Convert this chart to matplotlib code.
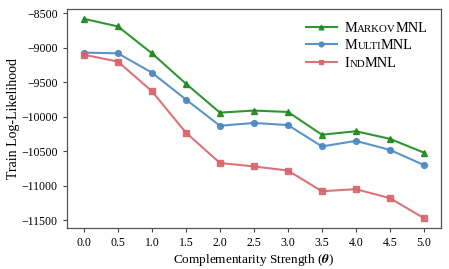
import numpy as np
import matplotlib
matplotlib.use("Agg")
import matplotlib.pyplot as plt
from matplotlib.colors import to_rgba
from matplotlib.offsetbox import HPacker, TextArea

# data
theta = [0.0, 0.5, 1.0, 1.5, 2.0, 2.5, 3.0, 3.5, 4.0, 4.5, 5.0]
markov = [-8580, -8690, -9080, -9520, -9940, -9910, -9930, -10260, -10210, -10320, -10520]
multi = [-9070, -9080, -9360, -9750, -10130, -10090, -10120, -10430, -10350, -10480, -10700]
ind = [-9100, -9200, -9630, -10230, -10670, -10720, -10780, -11080, -11050, -11180, -11470]

plt.rcParams['font.family'] = ['Liberation Serif', 'DejaVu Serif']
plt.rcParams['mathtext.fontset'] = 'stix'

fig, ax = plt.subplots(figsize=(4.49, 2.69), dpi=100)
fig.subplots_adjust(left=0.149, right=0.982, bottom=0.152, top=0.967)

series = [
    (markov, '#1a8a1a', '^', ('M', 'ARKOV', 'MNL')),
    (multi, '#4a88c2', 'o', ('M', 'ULTI', 'MNL')),
    (ind, '#d9646a', 's', ('I', 'ND', 'MNL')),
]
for vals, col, mk, lab in series:
    ax.plot(theta, vals, color=col, lw=1.5, alpha=0.9, marker=mk, ms=4.2,
            mfc=to_rgba(col, 0.75), mec=to_rgba(col, 0.75), label=''.join(lab))

ax.set_xticks(theta)
ax.set_xticklabels([f"{t:.1f}" for t in theta])
ax.set_yticks([-8500, -9000, -9500, -10000, -10500, -11000, -11500])
ax.tick_params(labelsize=8.5, length=3, color='#444444')
for s in ax.spines.values():
    s.set_color('#555555')
    s.set_linewidth(0.9)

ax.set_xlabel(r'Complementarity Strength ($\boldsymbol{\theta}$)', fontsize=9.5, labelpad=2)
ax.set_ylabel('Train Log-Likelihood', fontsize=10, labelpad=1)

big, small = 10.4, 7.8
leg = ax.legend(loc='upper right', frameon=False, fontsize=big, handlelength=2.1,
                handletextpad=0.55, borderaxespad=0.5, labelspacing=0.3,
                markerscale=0.8, bbox_to_anchor=(1.0, 1.0))

# fake small caps in the legend: swap each label for a packed row of text pieces
rows = [r for c in leg._legend_handle_box.get_children() for r in c.get_children()]
for row, (_, _, _, lab) in zip(rows, series):
    parts = [TextArea(p, textprops=dict(fontsize=big if k != 1 else small))
             for k, p in enumerate(lab)]
    pack = HPacker(children=parts, pad=0, sep=0, align='baseline')
    pack.set_figure(fig)
    row._children = [row._children[0], pack]

fig.savefig('out.png', dpi=100)
